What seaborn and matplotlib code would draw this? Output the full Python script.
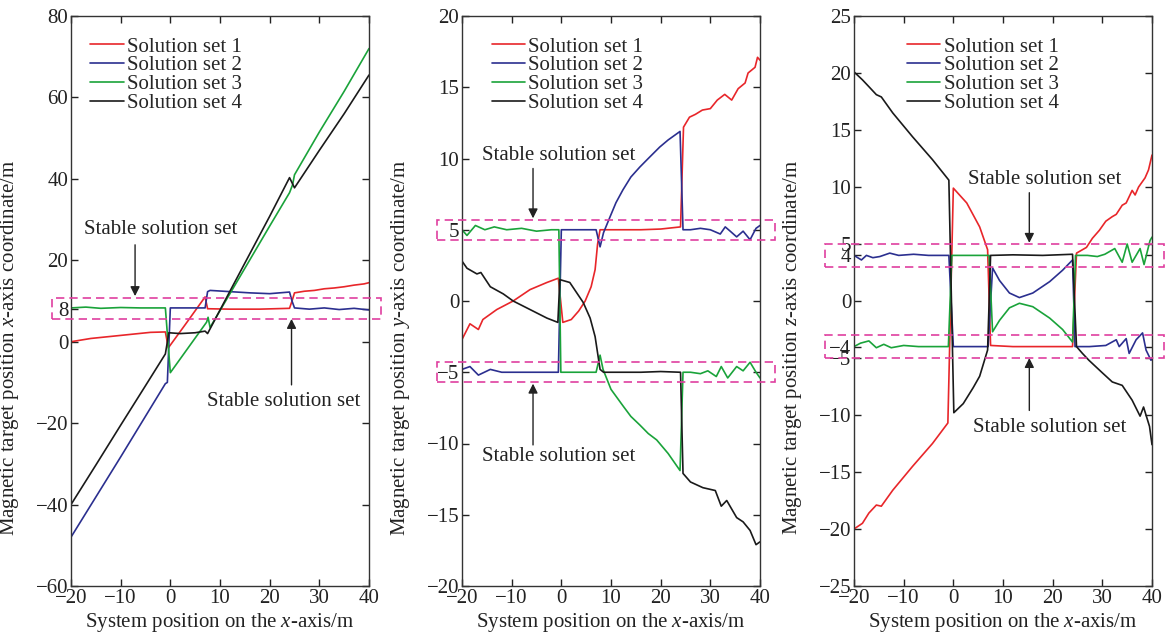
import matplotlib
matplotlib.use("Agg")
import matplotlib.pyplot as plt
from matplotlib.lines import Line2D
from matplotlib.patches import Rectangle
import seaborn as sns
import pandas as pd

# ---------------- data ----------------
series_names = ["Solution set 1", "Solution set 2", "Solution set 3", "Solution set 4"]
series_colors = ["#e8262a", "#2b2f8f", "#1aa33a", "#1a1a1a"]

# Panel 1: x-axis coordinate
p1_s1_x = [-20, -16, -12, -8, -4, -1, -0.4, 3, 7, 7.5, 12, 18, 24, 24.5, 25, 27, 29, 31, 33, 35, 37, 39, 40]
p1_s1_y = [0, 0.8, 1.3, 1.8, 2.3, 2.4, -1.5, 4.2, 11, 8.1, 8.0, 8.0, 8.2, 10, 12.0, 12.4, 12.6, 13.0, 13.2, 13.5, 13.9, 14.2, 14.5]
p1_s2_x = [-20, -10, -1, -0.6, 0, 3, 7, 7.5, 8, 12, 16, 20, 24, 24.5, 25, 28, 31, 34, 37, 40]
p1_s2_y = [-48, -28.3, -10.3, -10, 8.3, 8.3, 8.3, 12.3, 12.6, 12.3, 12.0, 11.8, 12.2, 10, 8.3, 8.0, 8.3, 7.9, 8.2, 7.8]
p1_s3_x = [-20, -17, -14, -10, -6, -2, -1, 0, 3, 7.3, 7.6, 8, 12, 16, 20, 24, 24.6, 25, 30, 35, 40]
p1_s3_y = [8.3, 8.5, 8.2, 8.4, 8.3, 8.3, 8.3, -7.6, -2.5, 4.8, 6.0, 3.5, 11.8, 20.1, 28.4, 36.6, 38.5, 41.0, 51.5, 61.5, 72.0]
p1_s4_x = [-20, -15, -10, -5, -1, -0.3, 2, 5, 7, 7.5, 12, 16, 20, 24, 25, 30, 35, 40]
p1_s4_y = [-40, -30.3, -20.5, -10.8, -3.0, 2.2, 2.0, 2.2, 2.6, 2.0, 12.4, 21.6, 30.8, 40.3, 37.8, 47.0, 56.0, 65.5]

# Panel 2: y-axis coordinate
p2_s1_x = [-20, -18.4, -16.7, -15.8, -13, -9.7, -6.3, -2.9, -0.6, 0.3, 2, 3.5, 4.8, 6, 6.8, 7.3, 7.8, 12, 16, 20, 24, 24.6,
           25.8, 27, 28.4, 30, 31.4, 32.9, 34.3, 35.6, 37, 37.6, 39, 39.5, 40]
p2_s1_y = [-2.7, -1.6, -2.0, -1.3, -0.6, 0.0, 0.8, 1.3, 1.6, -1.5, -1.3, -0.7, 0.0, 1.0, 2.2, 4.0, 5.0, 5.0, 5.0, 5.05, 5.2, 12.2,
           12.9, 13.1, 13.4, 13.5, 14.1, 14.5, 14.1, 14.9, 15.3, 16.0, 16.4, 17.1, 16.9]
p2_s2_x = [-20, -18.4, -16.7, -15.5, -14.3, -12, -8, -4, -0.6, 0, 4, 7, 7.8, 8.5, 9.8, 11, 12.4, 14, 15.8, 17.5, 19.8, 21.5, 23.9,
           24.5, 26, 28, 30, 32, 33, 34, 35.3, 36.6, 38, 39.2, 40]
p2_s2_y = [-4.8, -4.6, -5.2, -5.0, -4.8, -5.0, -5.0, -5.0, -5.0, 5.0, 5.0, 5.0, 3.8, 4.8, 5.9, 6.9, 7.8, 8.7, 9.4, 10.0, 10.8, 11.3, 11.9,
           5.0, 5.0, 5.1, 5.0, 4.7, 5.2, 4.9, 4.5, 4.9, 4.3, 5.1, 5.3]
p2_s3_x = [-20, -19, -17.3, -15.4, -13.5, -11, -8, -5, -2, -0.5, -0.1, 3, 7, 7.8, 8.4, 10, 12.5, 14, 15.8, 17.5, 19.2, 21.5, 23.9,
           24.5, 26, 28, 29.5, 31.2, 32.2, 33.5, 35.3, 36.6, 38, 39.2, 40]
p2_s3_y = [5.0, 4.6, 5.3, 5.0, 5.2, 5.0, 5.1, 4.9, 5.0, 5.0, -5.0, -5.0, -5.0, -3.8, -4.8, -6.2, -7.4, -8.1, -8.7, -9.3, -9.75, -10.7, -11.9,
           -5.0, -5.0, -5.1, -4.9, -5.3, -4.6, -5.4, -4.6, -4.9, -4.3, -5.0, -5.4]
p2_s4_x = [-20, -19, -17, -16.2, -14.3, -11.7, -9.7, -6.3, -2.9, -0.7, -0.3, 1.7, 4.4, 5.8, 6.8, 7.8, 8.5, 12, 16, 20, 24,
           24.5, 26, 28.5, 31, 32.2, 33.3, 35.3, 36.6, 38, 39.2, 40]
p2_s4_y = [2.8, 2.3, 1.9, 2.0, 1.0, 0.5, 0.0, -0.6, -1.2, -1.5, 1.5, 1.3, -0.1, -1.2, -2.5, -4.8, -5.0, -5.0, -5.0, -4.95, -5.0,
           -12.1, -12.7, -13.1, -13.3, -14.4, -14.0, -15.2, -15.5, -16.1, -17.1, -16.9]

# Panel 3: z-axis coordinate
p3_s1_x = [-20, -18.3, -17, -15.5, -14.5, -12.2, -8.2, -4.2, -1.1, 0, 2.7, 5.3, 6.9, 7.5, 12, 18, 24, 24.8, 26.8, 28, 29.4, 30.7, 32,
           32.8, 34, 34.8, 36, 36.6, 37.3, 38.6, 39.3, 40]
p3_s1_y = [-20, -19.5, -18.6, -17.9, -18.0, -16.6, -14.5, -12.5, -10.7, 9.9, 8.6, 6.5, 4.5, -3.9, -4.0, -4.0, -4.0, 4.2, 4.7, 5.5, 6.2, 7.0, 7.4,
           7.6, 8.4, 8.6, 9.7, 9.3, 10.0, 10.8, 11.5, 12.8]
p3_s2_x = [-20, -18.5, -17.5, -16.2, -14.8, -12.8, -11, -8, -5, -2, -0.9, 0, 3, 7, 7.9, 9.3, 11.3, 13.3, 16, 19.4, 22, 24,
           24.5, 27.4, 30.7, 32.8, 33.4, 34.8, 35.4, 36.8, 38.1, 38.8, 39.8, 40]
p3_s2_y = [4.0, 3.6, 4.0, 3.8, 3.9, 4.2, 4.0, 4.1, 4.0, 4.0, 4.0, -4.0, -4.0, -4.0, 2.9, 1.8, 0.7, 0.3, 0.7, 1.7, 2.7, 3.6,
           -4.0, -4.0, -3.9, -3.4, -4.0, -3.3, -4.6, -3.4, -2.8, -4.3, -5.2, -5.0]
p3_s3_x = [-20, -18.7, -17, -15.5, -14, -12.5, -10, -7, -4, -1, -0.3, 3, 7.2, 7.9, 9.3, 11.3, 13.3, 16, 19.4, 22, 24,
           24.6, 27, 29, 30.5, 32.5, 34, 35, 36, 37.6, 38.4, 39.6, 40]
p3_s3_y = [-4.0, -3.7, -3.5, -4.1, -3.8, -4.1, -3.9, -4.0, -4.0, -4.0, 4.0, 4.0, 4.0, -2.7, -1.7, -0.6, -0.2, -0.5, -1.5, -2.5, -3.6,
           4.0, 4.0, 3.9, 4.1, 4.6, 3.4, 5.0, 3.4, 4.6, 3.2, 5.3, 5.6]
p3_s4_x = [-20, -18.3, -17, -15.5, -14.5, -12.2, -8.2, -4.2, -0.9, 0.1, 2, 4, 5.3, 6.9, 7.5, 12, 18, 24, 24.8, 26, 27.3, 30,
           32, 34, 36, 37.6, 38.3, 39.5, 40]
p3_s4_y = [20.1, 19.4, 18.8, 18.1, 17.9, 16.5, 14.4, 12.4, 10.6, -9.8, -9.0, -7.6, -6.6, -4.3, 4.0, 4.05, 4.0, 4.1, -4.0, -4.6, -5.2, -6.3,
           -7.1, -7.4, -8.7, -10.1, -9.3, -11.0, -12.6]

x_ticks = [-20, -10, 0, 10, 20, 30, 40]
p1_yticks = [-60, -40, -20, 0, 8, 20, 40, 60, 80]
p2_yticks = [-20, -15, -10, -5, 0, 5, 10, 15, 20]
p3_yticks = [-25, -20, -15, -10, -5, -4, 0, 4, 5, 10, 15, 20, 25]
ylabels = ["Magnetic target position $x$-axis coordinate/m",
           "Magnetic target position $y$-axis coordinate/m",
           "Magnetic target position $z$-axis coordinate/m"]
xlabel = "System position on the $x$-axis/m"
annot_text = "Stable solution set"

# ---------------- style ----------------
sns.set_theme(style="ticks")
plt.rcParams["font.family"] = ["Liberation Serif", "DejaVu Serif"]
plt.rcParams["mathtext.fontset"] = "custom"
plt.rcParams["mathtext.rm"] = "Liberation Serif"
plt.rcParams["mathtext.it"] = "Liberation Serif:italic"
plt.rcParams["axes.linewidth"] = 1.0
plt.rcParams["axes.edgecolor"] = "#333333"

FS = 15
BOX_C = "#df3f9f"


def make_df(xs, ys):
    rows = []
    for name, x, y in zip(series_names, xs, ys):
        for xi, yi in zip(x, y):
            rows.append((name, xi, yi))
    return pd.DataFrame(rows, columns=["series", "x", "y"])


panels = [
    dict(xs=[p1_s1_x, p1_s2_x, p1_s3_x, p1_s4_x], ys=[p1_s1_y, p1_s2_y, p1_s3_y, p1_s4_y],
         ylim=(-60, 80), yticks=p1_yticks, left=71, legx=0.065,
         boxes=[(-23.8, 42.4, 5.7, 10.8)],
         annots=[((-7.1, 23.8), (-7.1, 11.2), (-2.0, 27.5)),
                 ((24.4, -10.6), (24.4, 5.6), (22.8, -14.7))]),
    dict(xs=[p2_s1_x, p2_s2_x, p2_s3_x, p2_s4_x], ys=[p2_s1_y, p2_s2_y, p2_s3_y, p2_s4_y],
         ylim=(-20, 20), yticks=p2_yticks, left=462, legx=0.10,
         boxes=[(-25.1, 43.0, 4.3, 5.7), (-25.1, 43.0, -5.7, -4.3)],
         annots=[((-5.7, 9.3), (-5.7, 5.8), (-0.6, 10.2)),
                 ((-5.7, -10.1), (-5.7, -5.8), (-0.6, -10.9))]),
    dict(xs=[p3_s1_x, p3_s2_x, p3_s3_x, p3_s4_x], ys=[p3_s1_y, p3_s2_y, p3_s3_y, p3_s4_y],
         ylim=(-25, 25), yticks=p3_yticks, left=854, legx=0.178,
         boxes=[(-25.8, 42.4, 3.0, 5.0), (-25.8, 42.4, -5.0, -3.0)],
         annots=[((15.3, 9.5), (15.3, 5.1), (18.4, 10.7)),
                 ((15.3, -9.6), (15.3, -5.0), (19.4, -11.1))]),
]

W, H = 1166, 639
fig = plt.figure(figsize=(W / 100, H / 100), dpi=100)
palette = dict(zip(series_names, series_colors))

for i, p in enumerate(panels):
    ax = fig.add_axes([p["left"] / W, 1 - 586 / H, 298 / W, 570 / H])
    df = make_df(p["xs"], p["ys"])
    sns.lineplot(data=df, x="x", y="y", hue="series", palette=palette, sort=False,
                 estimator=None, legend=False, linewidth=1.2, ax=ax)
    ax.set_xlim(-20, 40)
    ax.set_ylim(*p["ylim"])
    ax.set_xticks(x_ticks)
    ax.set_yticks(p["yticks"])
    ax.tick_params(direction="in", top=True, right=True, length=5, width=1,
                   labelsize=FS, pad=2, colors="#222222")
    ax.set_xlabel(xlabel, fontsize=FS, labelpad=2, color="#222222")
    ax.set_ylabel(ylabels[i], fontsize=FS, color="#222222")
    ax.yaxis.set_label_coords(-0.168, 0.418)
    for s in ax.spines.values():
        s.set_visible(True)

    for (x0, x1, y0, y1) in p["boxes"]:
        r = Rectangle((x0, y0), x1 - x0, y1 - y0, fill=False, edgecolor=BOX_C,
                      linestyle=(0, (5, 3)), linewidth=1.2, clip_on=False, zorder=5)
        ax.add_patch(r)

    for (a0, a1, t) in p["annots"]:
        ax.annotate("", xy=a1, xytext=a0,
                    arrowprops=dict(arrowstyle="-|>", color="#222222", lw=1.0,
                                    mutation_scale=14, shrinkA=0, shrinkB=0))
        ax.text(t[0], t[1], annot_text, fontsize=FS, ha="center", va="center", color="#222222")

    handles = [Line2D([0], [0], color=c, lw=1.2) for c in series_colors]
    ax.legend(handles, series_names, loc="upper left", bbox_to_anchor=(p["legx"], 0.963),
              frameon=False, fontsize=FS, handlelength=1.6, handletextpad=0.15,
              labelspacing=-0.04, borderpad=0, borderaxespad=0)

fig.savefig("out.png", dpi=100)
